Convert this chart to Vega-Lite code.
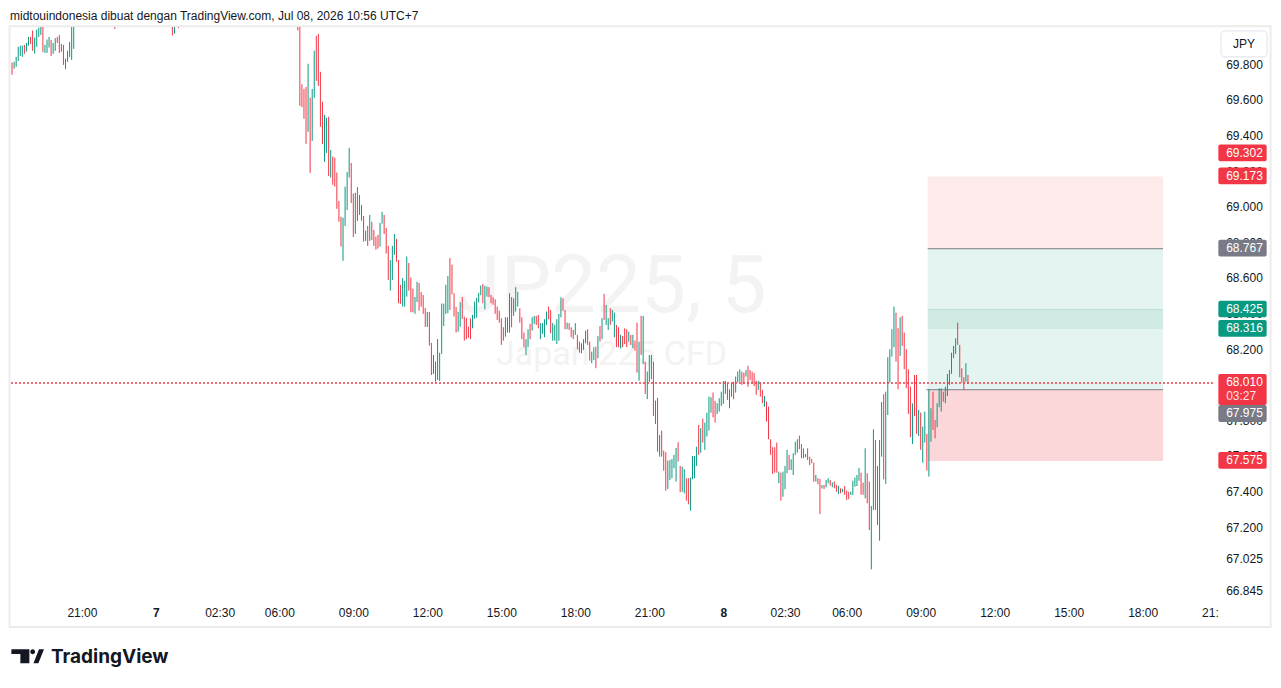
{
"$schema":"https://vega.github.io/schema/vega-lite/v6.json",
"width":1203,"height":573,
"autosize":{"type":"none"},
"padding":{"left":10,"top":27,"right":68,"bottom":88},
"background":"white",
"config":{"view":{"stroke":null},"font":"Liberation Sans",
 "axis":{"grid":false,"domain":false,"ticks":false,"tickSize":0,"labelFont":"Liberation Sans","labelFontSize":12,"labelColor":"#131722","labelOverlap":false,"labelFlush":false,"labelBound":false},
 "axisX":{"labelPadding":7},"axisY":{"labels":false}},
"data":{"values":[{}]},
"datasets":{
"bars":[
{"i":1,"o":69.813,"h":69.813,"l":69.744,"c":69.744},
{"i":2,"o":69.778,"h":69.818,"l":69.778,"c":69.818},
{"i":3,"o":69.789,"h":69.845,"l":69.789,"c":69.845},
{"i":4,"o":69.822,"h":69.901,"l":69.822,"c":69.901},
{"i":5,"o":69.85,"h":69.908,"l":69.85,"c":69.908},
{"i":6,"o":69.845,"h":69.908,"l":69.845,"c":69.908},
{"i":7,"o":69.912,"h":69.912,"l":69.862,"c":69.862},
{"i":8,"o":69.875,"h":69.923,"l":69.875,"c":69.923},
{"i":9,"o":69.908,"h":69.957,"l":69.908,"c":69.957},
{"i":10,"o":69.957,"h":69.957,"l":69.918,"c":69.918},
{"i":11,"o":69.993,"h":69.993,"l":69.879,"c":69.879},
{"i":12,"o":69.863,"h":69.953,"l":69.863,"c":69.953},
{"i":13,"o":69.901,"h":69.998,"l":69.901,"c":69.998},
{"i":14,"o":69.957,"h":70.009,"l":69.957,"c":70.009},
{"i":15,"o":69.968,"h":70.03,"l":69.968,"c":70.03},
{"i":16,"o":70.02,"h":70.02,"l":69.873,"c":69.873},
{"i":17,"o":69.867,"h":69.912,"l":69.867,"c":69.912},
{"i":18,"o":69.867,"h":69.942,"l":69.867,"c":69.942},
{"i":19,"o":69.897,"h":69.957,"l":69.897,"c":69.957},
{"i":20,"o":69.94,"h":69.94,"l":69.85,"c":69.85},
{"i":21,"o":69.862,"h":69.923,"l":69.862,"c":69.923},
{"i":22,"o":69.879,"h":69.95,"l":69.879,"c":69.95},
{"i":23,"o":69.957,"h":69.957,"l":69.923,"c":69.923},
{"i":24,"o":69.968,"h":69.968,"l":69.867,"c":69.867},
{"i":25,"o":69.918,"h":69.918,"l":69.873,"c":69.873},
{"i":26,"o":69.912,"h":69.912,"l":69.8,"c":69.8},
{"i":27,"o":69.777,"h":69.835,"l":69.777,"c":69.835},
{"i":28,"o":69.817,"h":69.879,"l":69.817,"c":69.879},
{"i":29,"o":69.845,"h":69.929,"l":69.845,"c":69.929},
{"i":30,"o":69.828,"h":70.06,"l":69.828,"c":70.06},
{"i":31,"o":69.89,"h":70.08,"l":69.89,"c":70.08},
{"i":51,"o":70.06,"h":70.06,"l":70.002,"c":70.002},
{"i":79,"o":70.08,"h":70.08,"l":69.965,"c":69.965},
{"i":80,"o":69.976,"h":70.07,"l":69.976,"c":70.07},
{"i":82,"o":70.05,"h":70.05,"l":70.008,"c":70.008},
{"i":140,"o":70.03,"h":70.03,"l":69.993,"c":69.993},
{"i":141,"o":70.04,"h":70.04,"l":69.57,"c":69.57},
{"i":142,"o":69.691,"h":69.691,"l":69.562,"c":69.562},
{"i":143,"o":69.665,"h":69.665,"l":69.497,"c":69.497},
{"i":144,"o":69.676,"h":69.676,"l":69.356,"c":69.356},
{"i":145,"o":69.424,"h":69.806,"l":69.424,"c":69.806},
{"i":146,"o":69.615,"h":69.615,"l":69.193,"c":69.193},
{"i":147,"o":69.373,"h":69.665,"l":69.373,"c":69.665},
{"i":148,"o":69.615,"h":69.879,"l":69.615,"c":69.879},
{"i":149,"o":69.963,"h":69.963,"l":69.71,"c":69.71},
{"i":150,"o":69.974,"h":69.974,"l":69.682,"c":69.682},
{"i":151,"o":69.761,"h":69.761,"l":69.452,"c":69.452},
{"i":152,"o":69.592,"h":69.592,"l":69.356,"c":69.356},
{"i":153,"o":69.255,"h":69.519,"l":69.255,"c":69.519},
{"i":154,"o":69.305,"h":69.502,"l":69.305,"c":69.502},
{"i":155,"o":69.508,"h":69.508,"l":69.176,"c":69.176},
{"i":156,"o":69.167,"h":69.322,"l":69.167,"c":69.322},
{"i":157,"o":69.285,"h":69.285,"l":69.126,"c":69.126},
{"i":158,"o":69.279,"h":69.279,"l":69.116,"c":69.116},
{"i":159,"o":69.195,"h":69.195,"l":68.991,"c":68.991},
{"i":160,"o":69.035,"h":69.035,"l":68.919,"c":68.919},
{"i":161,"o":68.947,"h":68.947,"l":68.779,"c":68.779},
{"i":162,"o":68.699,"h":68.942,"l":68.699,"c":68.942},
{"i":163,"o":68.895,"h":69.116,"l":68.895,"c":69.116},
{"i":164,"o":68.985,"h":69.199,"l":68.985,"c":69.199},
{"i":165,"o":69.167,"h":69.333,"l":69.167,"c":69.333},
{"i":166,"o":69.249,"h":69.249,"l":69.024,"c":69.024},
{"i":167,"o":69.077,"h":69.077,"l":68.833,"c":68.833},
{"i":168,"o":68.85,"h":69.081,"l":68.85,"c":69.081},
{"i":169,"o":69.114,"h":69.114,"l":68.923,"c":68.923},
{"i":170,"o":69.069,"h":69.069,"l":68.957,"c":68.957},
{"i":171,"o":69.013,"h":69.013,"l":68.925,"c":68.925},
{"i":172,"o":68.951,"h":68.951,"l":68.807,"c":68.807},
{"i":173,"o":68.811,"h":68.869,"l":68.811,"c":68.869},
{"i":174,"o":68.895,"h":68.895,"l":68.783,"c":68.783},
{"i":175,"o":68.811,"h":68.957,"l":68.811,"c":68.957},
{"i":176,"o":68.919,"h":68.919,"l":68.816,"c":68.816},
{"i":177,"o":68.873,"h":68.873,"l":68.783,"c":68.783},
{"i":178,"o":68.835,"h":68.835,"l":68.762,"c":68.762},
{"i":179,"o":68.845,"h":68.845,"l":68.768,"c":68.768},
{"i":180,"o":68.779,"h":68.912,"l":68.779,"c":68.912},
{"i":181,"o":68.908,"h":68.974,"l":68.908,"c":68.974},
{"i":182,"o":68.957,"h":68.957,"l":68.85,"c":68.85},
{"i":183,"o":68.884,"h":68.884,"l":68.74,"c":68.74},
{"i":184,"o":68.783,"h":68.783,"l":68.592,"c":68.592},
{"i":185,"o":68.532,"h":68.704,"l":68.532,"c":68.704},
{"i":186,"o":68.592,"h":68.783,"l":68.592,"c":68.783},
{"i":187,"o":68.732,"h":68.85,"l":68.732,"c":68.85},
{"i":188,"o":68.822,"h":68.822,"l":68.695,"c":68.695},
{"i":189,"o":68.704,"h":68.704,"l":68.461,"c":68.461},
{"i":190,"o":68.564,"h":68.564,"l":68.457,"c":68.457},
{"i":191,"o":68.442,"h":68.603,"l":68.442,"c":68.603},
{"i":192,"o":68.442,"h":68.586,"l":68.442,"c":68.586},
{"i":193,"o":68.498,"h":68.723,"l":68.498,"c":68.723},
{"i":194,"o":68.687,"h":68.687,"l":68.532,"c":68.532},
{"i":195,"o":68.605,"h":68.605,"l":68.41,"c":68.41},
{"i":196,"o":68.543,"h":68.543,"l":68.41,"c":68.41},
{"i":197,"o":68.402,"h":68.496,"l":68.402,"c":68.496},
{"i":198,"o":68.468,"h":68.581,"l":68.468,"c":68.581},
{"i":199,"o":68.575,"h":68.575,"l":68.419,"c":68.419},
{"i":200,"o":68.524,"h":68.524,"l":68.442,"c":68.442},
{"i":201,"o":68.507,"h":68.507,"l":68.401,"c":68.401},
{"i":202,"o":68.434,"h":68.434,"l":68.328,"c":68.328},
{"i":203,"o":68.328,"h":68.412,"l":68.328,"c":68.412},
{"i":204,"o":68.412,"h":68.412,"l":68.223,"c":68.223},
{"i":205,"o":68.238,"h":68.238,"l":68.058,"c":68.058},
{"i":206,"o":68.063,"h":68.17,"l":68.063,"c":68.17},
{"i":207,"o":68.02,"h":68.133,"l":68.02,"c":68.133},
{"i":208,"o":68.03,"h":68.26,"l":68.03,"c":68.26},
{"i":209,"o":68.024,"h":68.183,"l":68.024,"c":68.183},
{"i":210,"o":68.176,"h":68.459,"l":68.176,"c":68.459},
{"i":211,"o":68.333,"h":68.459,"l":68.333,"c":68.459},
{"i":212,"o":68.401,"h":68.564,"l":68.401,"c":68.564},
{"i":213,"o":68.405,"h":68.614,"l":68.405,"c":68.614},
{"i":214,"o":68.715,"h":68.715,"l":68.423,"c":68.423},
{"i":215,"o":68.678,"h":68.678,"l":68.511,"c":68.511},
{"i":216,"o":68.517,"h":68.517,"l":68.386,"c":68.386},
{"i":217,"o":68.44,"h":68.44,"l":68.296,"c":68.296},
{"i":218,"o":68.301,"h":68.412,"l":68.301,"c":68.412},
{"i":219,"o":68.329,"h":68.466,"l":68.329,"c":68.466},
{"i":220,"o":68.496,"h":68.496,"l":68.373,"c":68.373},
{"i":221,"o":68.386,"h":68.386,"l":68.251,"c":68.251},
{"i":222,"o":68.378,"h":68.378,"l":68.259,"c":68.259},
{"i":223,"o":68.329,"h":68.329,"l":68.267,"c":68.267},
{"i":224,"o":68.376,"h":68.376,"l":68.259,"c":68.259},
{"i":225,"o":68.32,"h":68.395,"l":68.32,"c":68.395},
{"i":226,"o":68.373,"h":68.47,"l":68.373,"c":68.47},
{"i":227,"o":68.38,"h":68.492,"l":68.38,"c":68.492},
{"i":228,"o":68.466,"h":68.519,"l":68.466,"c":68.519},
{"i":229,"o":68.506,"h":68.56,"l":68.506,"c":68.56},
{"i":230,"o":68.569,"h":68.569,"l":68.461,"c":68.461},
{"i":231,"o":68.427,"h":68.56,"l":68.427,"c":68.56},
{"i":232,"o":68.498,"h":68.554,"l":68.498,"c":68.554},
{"i":233,"o":68.551,"h":68.551,"l":68.495,"c":68.495},
{"i":234,"o":68.508,"h":68.508,"l":68.461,"c":68.461},
{"i":235,"o":68.495,"h":68.495,"l":68.452,"c":68.452},
{"i":236,"o":68.483,"h":68.483,"l":68.401,"c":68.401},
{"i":237,"o":68.442,"h":68.442,"l":68.367,"c":68.367},
{"i":238,"o":68.419,"h":68.419,"l":68.352,"c":68.352},
{"i":239,"o":68.377,"h":68.377,"l":68.227,"c":68.227},
{"i":240,"o":68.326,"h":68.326,"l":68.251,"c":68.251},
{"i":241,"o":68.273,"h":68.382,"l":68.273,"c":68.382},
{"i":242,"o":68.296,"h":68.382,"l":68.296,"c":68.382},
{"i":243,"o":68.296,"h":68.517,"l":68.296,"c":68.517},
{"i":244,"o":68.495,"h":68.495,"l":68.326,"c":68.326},
{"i":245,"o":68.39,"h":68.489,"l":68.39,"c":68.489},
{"i":246,"o":68.414,"h":68.551,"l":68.414,"c":68.551},
{"i":247,"o":68.442,"h":68.526,"l":68.442,"c":68.526},
{"i":248,"o":68.433,"h":68.433,"l":68.352,"c":68.352},
{"i":249,"o":68.382,"h":68.382,"l":68.259,"c":68.259},
{"i":250,"o":68.296,"h":68.296,"l":68.214,"c":68.214},
{"i":251,"o":68.17,"h":68.259,"l":68.17,"c":68.259},
{"i":252,"o":68.214,"h":68.315,"l":68.214,"c":68.315},
{"i":253,"o":68.345,"h":68.345,"l":68.259,"c":68.259},
{"i":254,"o":68.307,"h":68.382,"l":68.307,"c":68.382},
{"i":255,"o":68.345,"h":68.39,"l":68.345,"c":68.39},
{"i":256,"o":68.39,"h":68.39,"l":68.339,"c":68.339},
{"i":257,"o":68.395,"h":68.395,"l":68.32,"c":68.32},
{"i":258,"o":68.259,"h":68.349,"l":68.259,"c":68.349},
{"i":259,"o":68.289,"h":68.349,"l":68.289,"c":68.349},
{"i":260,"o":68.27,"h":68.371,"l":68.27,"c":68.371},
{"i":261,"o":68.339,"h":68.414,"l":68.339,"c":68.414},
{"i":262,"o":68.442,"h":68.442,"l":68.371,"c":68.371},
{"i":263,"o":68.423,"h":68.423,"l":68.292,"c":68.292},
{"i":264,"o":68.251,"h":68.349,"l":68.251,"c":68.349},
{"i":265,"o":68.251,"h":68.339,"l":68.251,"c":68.339},
{"i":266,"o":68.232,"h":68.371,"l":68.232,"c":68.371},
{"i":267,"o":68.251,"h":68.401,"l":68.251,"c":68.401},
{"i":268,"o":68.382,"h":68.495,"l":68.382,"c":68.495},
{"i":269,"o":68.489,"h":68.489,"l":68.419,"c":68.419},
{"i":270,"o":68.423,"h":68.423,"l":68.315,"c":68.315},
{"i":271,"o":68.315,"h":68.352,"l":68.315,"c":68.352},
{"i":272,"o":68.349,"h":68.349,"l":68.311,"c":68.311},
{"i":273,"o":68.326,"h":68.326,"l":68.27,"c":68.27},
{"i":274,"o":68.311,"h":68.311,"l":68.259,"c":68.259},
{"i":275,"o":68.283,"h":68.349,"l":68.283,"c":68.349},
{"i":276,"o":68.283,"h":68.283,"l":68.202,"c":68.202},
{"i":277,"o":68.245,"h":68.245,"l":68.183,"c":68.183},
{"i":278,"o":68.18,"h":68.236,"l":68.18,"c":68.236},
{"i":279,"o":68.199,"h":68.259,"l":68.199,"c":68.259},
{"i":280,"o":68.236,"h":68.307,"l":68.236,"c":68.307},
{"i":281,"o":68.315,"h":68.315,"l":68.227,"c":68.227},
{"i":282,"o":68.245,"h":68.245,"l":68.138,"c":68.138},
{"i":283,"o":68.124,"h":68.189,"l":68.124,"c":68.189},
{"i":284,"o":68.142,"h":68.214,"l":68.142,"c":68.214},
{"i":285,"o":68.217,"h":68.217,"l":68.096,"c":68.096},
{"i":286,"o":68.152,"h":68.277,"l":68.152,"c":68.277},
{"i":287,"o":68.333,"h":68.333,"l":68.245,"c":68.245},
{"i":288,"o":68.259,"h":68.377,"l":68.259,"c":68.377},
{"i":289,"o":68.513,"h":68.513,"l":68.367,"c":68.367},
{"i":290,"o":68.339,"h":68.451,"l":68.339,"c":68.451},
{"i":291,"o":68.311,"h":68.377,"l":68.311,"c":68.377},
{"i":292,"o":68.433,"h":68.433,"l":68.339,"c":68.339},
{"i":293,"o":68.358,"h":68.423,"l":68.358,"c":68.423},
{"i":294,"o":68.27,"h":68.408,"l":68.27,"c":68.408},
{"i":295,"o":68.339,"h":68.339,"l":68.214,"c":68.214},
{"i":296,"o":68.326,"h":68.326,"l":68.214,"c":68.214},
{"i":297,"o":68.208,"h":68.283,"l":68.208,"c":68.283},
{"i":298,"o":68.277,"h":68.277,"l":68.214,"c":68.214},
{"i":299,"o":68.32,"h":68.32,"l":68.232,"c":68.232},
{"i":300,"o":68.315,"h":68.315,"l":68.214,"c":68.214},
{"i":301,"o":68.245,"h":68.301,"l":68.245,"c":68.301},
{"i":302,"o":68.283,"h":68.283,"l":68.227,"c":68.227},
{"i":303,"o":68.208,"h":68.283,"l":68.208,"c":68.283},
{"i":304,"o":68.251,"h":68.251,"l":68.195,"c":68.195},
{"i":305,"o":68.352,"h":68.352,"l":68.071,"c":68.071},
{"i":306,"o":68.026,"h":68.245,"l":68.026,"c":68.245},
{"i":307,"o":68.39,"h":68.39,"l":68.17,"c":68.17},
{"i":308,"o":68.12,"h":68.39,"l":68.12,"c":68.39},
{"i":309,"o":68.133,"h":68.133,"l":67.951,"c":67.951},
{"i":310,"o":67.922,"h":68.077,"l":67.922,"c":68.077},
{"i":311,"o":68.019,"h":68.17,"l":68.019,"c":68.17},
{"i":312,"o":68.034,"h":68.17,"l":68.034,"c":68.17},
{"i":313,"o":68.133,"h":68.133,"l":67.828,"c":67.828},
{"i":314,"o":67.914,"h":67.914,"l":67.783,"c":67.783},
{"i":315,"o":67.929,"h":67.929,"l":67.627,"c":67.627},
{"i":316,"o":67.599,"h":67.721,"l":67.599,"c":67.721},
{"i":317,"o":67.745,"h":67.745,"l":67.599,"c":67.599},
{"i":318,"o":67.633,"h":67.633,"l":67.52,"c":67.52},
{"i":319,"o":67.624,"h":67.624,"l":67.408,"c":67.408},
{"i":320,"o":67.418,"h":67.577,"l":67.418,"c":67.577},
{"i":321,"o":67.468,"h":67.58,"l":67.468,"c":67.58},
{"i":322,"o":67.478,"h":67.586,"l":67.478,"c":67.586},
{"i":323,"o":67.534,"h":67.609,"l":67.534,"c":67.609},
{"i":324,"o":67.459,"h":67.648,"l":67.459,"c":67.648},
{"i":325,"o":67.68,"h":67.68,"l":67.571,"c":67.571},
{"i":326,"o":67.547,"h":67.547,"l":67.399,"c":67.399},
{"i":327,"o":67.402,"h":67.543,"l":67.402,"c":67.543},
{"i":328,"o":67.393,"h":67.528,"l":67.393,"c":67.528},
{"i":329,"o":67.478,"h":67.478,"l":67.352,"c":67.352},
{"i":330,"o":67.478,"h":67.478,"l":67.331,"c":67.331},
{"i":331,"o":67.296,"h":67.481,"l":67.296,"c":67.481},
{"i":332,"o":67.472,"h":67.603,"l":67.472,"c":67.603},
{"i":333,"o":67.478,"h":67.603,"l":67.478,"c":67.603},
{"i":334,"o":67.547,"h":67.655,"l":67.547,"c":67.655},
{"i":335,"o":67.777,"h":67.777,"l":67.609,"c":67.609},
{"i":336,"o":67.621,"h":67.759,"l":67.621,"c":67.759},
{"i":337,"o":67.813,"h":67.813,"l":67.678,"c":67.678},
{"i":338,"o":67.637,"h":67.79,"l":67.637,"c":67.79},
{"i":339,"o":67.712,"h":67.846,"l":67.712,"c":67.846},
{"i":340,"o":67.745,"h":67.936,"l":67.745,"c":67.936},
{"i":341,"o":67.846,"h":67.933,"l":67.846,"c":67.933},
{"i":342,"o":67.959,"h":67.959,"l":67.82,"c":67.82},
{"i":343,"o":67.912,"h":67.912,"l":67.79,"c":67.79},
{"i":344,"o":67.839,"h":67.899,"l":67.839,"c":67.899},
{"i":345,"o":67.852,"h":67.927,"l":67.852,"c":67.927},
{"i":346,"o":67.884,"h":67.964,"l":67.884,"c":67.964},
{"i":347,"o":67.895,"h":68.024,"l":67.895,"c":68.024},
{"i":348,"o":67.951,"h":68.024,"l":67.951,"c":68.024},
{"i":349,"o":68.011,"h":68.011,"l":67.918,"c":67.918},
{"i":350,"o":67.871,"h":67.978,"l":67.871,"c":67.978},
{"i":351,"o":67.936,"h":68.011,"l":67.936,"c":68.011},
{"i":352,"o":68.02,"h":68.02,"l":67.922,"c":67.922},
{"i":353,"o":67.959,"h":68.049,"l":67.959,"c":68.049},
{"i":354,"o":68.015,"h":68.077,"l":68.015,"c":68.077},
{"i":355,"o":68.02,"h":68.09,"l":68.02,"c":68.09},
{"i":356,"o":68.077,"h":68.077,"l":68.002,"c":68.002},
{"i":357,"o":68.071,"h":68.071,"l":68.008,"c":68.008},
{"i":358,"o":68.049,"h":68.086,"l":68.049,"c":68.086},
{"i":359,"o":68.109,"h":68.109,"l":67.992,"c":67.992},
{"i":360,"o":68.086,"h":68.086,"l":68.03,"c":68.03},
{"i":361,"o":68.077,"h":68.077,"l":68.011,"c":68.011},
{"i":362,"o":68.068,"h":68.068,"l":67.996,"c":67.996},
{"i":363,"o":68.026,"h":68.026,"l":67.946,"c":67.946},
{"i":364,"o":67.974,"h":68.024,"l":67.974,"c":68.024},
{"i":365,"o":68.015,"h":68.015,"l":67.936,"c":67.936},
{"i":366,"o":67.974,"h":67.974,"l":67.899,"c":67.899},
{"i":367,"o":67.88,"h":67.94,"l":67.88,"c":67.94},
{"i":368,"o":67.908,"h":67.908,"l":67.796,"c":67.796},
{"i":369,"o":67.88,"h":67.88,"l":67.697,"c":67.697},
{"i":370,"o":67.697,"h":67.697,"l":67.609,"c":67.609},
{"i":371,"o":67.652,"h":67.652,"l":67.502,"c":67.502},
{"i":372,"o":67.652,"h":67.652,"l":67.509,"c":67.509},
{"i":373,"o":67.678,"h":67.678,"l":67.509,"c":67.509},
{"i":374,"o":67.45,"h":67.515,"l":67.45,"c":67.515},
{"i":375,"o":67.509,"h":67.509,"l":67.352,"c":67.352},
{"i":376,"o":67.374,"h":67.515,"l":67.374,"c":67.515},
{"i":377,"o":67.416,"h":67.547,"l":67.416,"c":67.547},
{"i":378,"o":67.506,"h":67.637,"l":67.506,"c":67.637},
{"i":379,"o":67.609,"h":67.609,"l":67.524,"c":67.524},
{"i":380,"o":67.524,"h":67.584,"l":67.524,"c":67.584},
{"i":381,"o":67.496,"h":67.618,"l":67.496,"c":67.618},
{"i":382,"o":67.609,"h":67.683,"l":67.609,"c":67.683},
{"i":383,"o":67.621,"h":67.697,"l":67.621,"c":67.697},
{"i":384,"o":67.717,"h":67.717,"l":67.641,"c":67.641},
{"i":385,"o":67.67,"h":67.67,"l":67.59,"c":67.59},
{"i":386,"o":67.646,"h":67.646,"l":67.59,"c":67.59},
{"i":387,"o":67.596,"h":67.614,"l":67.596,"c":67.614},
{"i":388,"o":67.646,"h":67.646,"l":67.58,"c":67.58},
{"i":389,"o":67.599,"h":67.599,"l":67.552,"c":67.552},
{"i":390,"o":67.586,"h":67.586,"l":67.562,"c":67.562},
{"i":391,"o":67.565,"h":67.565,"l":67.459,"c":67.459},
{"i":392,"o":67.459,"h":67.496,"l":67.459,"c":67.496},
{"i":393,"o":67.478,"h":67.478,"l":67.444,"c":67.444},
{"i":394,"o":67.474,"h":67.474,"l":67.277,"c":67.277},
{"i":395,"o":67.421,"h":67.44,"l":67.421,"c":67.44},
{"i":396,"o":67.44,"h":67.44,"l":67.417,"c":67.417},
{"i":397,"o":67.427,"h":67.468,"l":67.427,"c":67.468},
{"i":398,"o":67.45,"h":67.478,"l":67.45,"c":67.478},
{"i":399,"o":67.468,"h":67.468,"l":67.436,"c":67.436},
{"i":400,"o":67.427,"h":67.455,"l":67.427,"c":67.455},
{"i":401,"o":67.459,"h":67.459,"l":67.422,"c":67.422},
{"i":402,"o":67.44,"h":67.44,"l":67.402,"c":67.402},
{"i":403,"o":67.389,"h":67.434,"l":67.389,"c":67.434},
{"i":404,"o":67.421,"h":67.421,"l":67.393,"c":67.393},
{"i":405,"o":67.4,"h":67.418,"l":67.4,"c":67.418},
{"i":406,"o":67.434,"h":67.434,"l":67.385,"c":67.385},
{"i":407,"o":67.408,"h":67.408,"l":67.356,"c":67.356},
{"i":408,"o":67.402,"h":67.402,"l":67.36,"c":67.36},
{"i":409,"o":67.384,"h":67.402,"l":67.384,"c":67.402},
{"i":410,"o":67.384,"h":67.464,"l":67.384,"c":67.464},
{"i":411,"o":67.43,"h":67.481,"l":67.43,"c":67.481},
{"i":412,"o":67.434,"h":67.496,"l":67.434,"c":67.496},
{"i":413,"o":67.464,"h":67.535,"l":67.464,"c":67.535},
{"i":414,"o":67.509,"h":67.509,"l":67.385,"c":67.385},
{"i":415,"o":67.453,"h":67.453,"l":67.385,"c":67.385},
{"i":416,"o":67.365,"h":67.646,"l":67.365,"c":67.646},
{"i":417,"o":67.506,"h":67.506,"l":67.337,"c":67.337},
{"i":418,"o":67.459,"h":67.459,"l":67.187,"c":67.187},
{"i":419,"o":66.966,"h":67.322,"l":66.966,"c":67.322},
{"i":420,"o":67.3,"h":67.753,"l":67.3,"c":67.753},
{"i":421,"o":67.693,"h":67.693,"l":67.3,"c":67.3},
{"i":422,"o":67.547,"h":67.547,"l":67.215,"c":67.215},
{"i":423,"o":67.127,"h":67.693,"l":67.127,"c":67.693},
{"i":424,"o":67.599,"h":67.906,"l":67.599,"c":67.906},
{"i":425,"o":67.95,"h":67.95,"l":67.472,"c":67.472},
{"i":426,"o":67.446,"h":67.964,"l":67.446,"c":67.964},
{"i":427,"o":67.833,"h":68.158,"l":67.833,"c":68.158},
{"i":428,"o":68.015,"h":68.202,"l":68.015,"c":68.202},
{"i":429,"o":68.161,"h":68.315,"l":68.161,"c":68.315},
{"i":430,"o":68.214,"h":68.442,"l":68.214,"c":68.442},
{"i":431,"o":68.408,"h":68.408,"l":68.133,"c":68.133},
{"i":432,"o":68.321,"h":68.321,"l":67.978,"c":67.978},
{"i":433,"o":68.165,"h":68.382,"l":68.165,"c":68.382},
{"i":434,"o":68.39,"h":68.39,"l":68.221,"c":68.221},
{"i":435,"o":68.296,"h":68.296,"l":68.09,"c":68.09},
{"i":436,"o":68.203,"h":68.203,"l":67.984,"c":67.984},
{"i":437,"o":68.09,"h":68.09,"l":67.839,"c":67.839},
{"i":438,"o":67.992,"h":67.992,"l":67.708,"c":67.708},
{"i":439,"o":67.67,"h":67.899,"l":67.67,"c":67.899},
{"i":440,"o":68.058,"h":68.058,"l":67.828,"c":67.828},
{"i":441,"o":68.058,"h":68.058,"l":67.727,"c":67.727},
{"i":442,"o":67.715,"h":67.861,"l":67.715,"c":67.861},
{"i":443,"o":67.846,"h":67.846,"l":67.637,"c":67.637},
{"i":444,"o":67.565,"h":67.768,"l":67.565,"c":67.768},
{"i":445,"o":67.678,"h":67.852,"l":67.678,"c":67.852},
{"i":446,"o":67.727,"h":67.727,"l":67.52,"c":67.52},
{"i":447,"o":67.487,"h":67.978,"l":67.487,"c":67.978},
{"i":448,"o":67.683,"h":67.871,"l":67.683,"c":67.871},
{"i":449,"o":67.964,"h":67.964,"l":67.749,"c":67.749},
{"i":450,"o":67.805,"h":67.805,"l":67.702,"c":67.702},
{"i":451,"o":67.764,"h":67.899,"l":67.764,"c":67.899},
{"i":452,"o":67.877,"h":67.983,"l":67.877,"c":67.983},
{"i":453,"o":67.852,"h":67.983,"l":67.852,"c":67.983},
{"i":454,"o":67.964,"h":67.964,"l":67.908,"c":67.908},
{"i":455,"o":67.899,"h":67.992,"l":67.899,"c":67.992},
{"i":456,"o":67.94,"h":68.064,"l":67.94,"c":68.064},
{"i":457,"o":68.002,"h":68.086,"l":68.002,"c":68.086},
{"i":458,"o":68.064,"h":68.183,"l":68.064,"c":68.183},
{"i":459,"o":68.152,"h":68.221,"l":68.152,"c":68.221},
{"i":460,"o":68.176,"h":68.264,"l":68.176,"c":68.264},
{"i":461,"o":68.352,"h":68.352,"l":68.227,"c":68.227},
{"i":462,"o":68.227,"h":68.227,"l":68.045,"c":68.045},
{"i":463,"o":68.096,"h":68.096,"l":68.015,"c":68.015},
{"i":464,"o":68.045,"h":68.045,"l":67.974,"c":67.974},
{"i":465,"o":68.02,"h":68.124,"l":68.02,"c":68.124},
{"i":466,"o":68.04,"h":68.058,"l":68.01,"c":68.01}
],
"zones":[
{"from":446.4,"to":560.9,"top":69.173,"bot":68.767,"zone":"short stop"},
{"from":446.4,"to":560.9,"top":68.767,"bot":68.425,"zone":"short target"},
{"from":446.4,"to":560.9,"top":68.425,"bot":68.316,"zone":"overlap"},
{"from":446.4,"to":560.9,"top":68.316,"bot":67.975,"zone":"long target"},
{"from":446.4,"to":560.9,"top":67.975,"bot":67.575,"zone":"long stop"}
],
"lines":[
{"from":446.4,"to":560.9,"p":68.767,"kind":"entry"},
{"from":446.4,"to":560.9,"p":68.425,"kind":"target"},
{"from":445.8,"to":560.9,"p":67.975,"kind":"entry"}
],
"ylabels":[{"p":69.8},{"p":69.6},{"p":69.4},{"p":69.2},{"p":69.0},{"p":68.8},{"p":68.6},{"p":68.4},{"p":68.2},{"p":68.0},{"p":67.8},{"p":67.6},{"p":67.4},{"p":67.2},{"p":67.025},{"p":66.845}],
"last":[{"p":68.01}],
"tags":[
{"price":69.302,"kind":"high"},
{"price":69.173,"kind":"stop"},
{"price":68.767,"kind":"entry"},
{"price":68.425,"kind":"target"},
{"price":68.316,"kind":"target"},
{"price":67.575,"kind":"stop"}
]
},
"layer":[
{"mark":{"type":"rect","fillOpacity":0,"stroke":"#ececec","strokeWidth":2,"clip":false},
 "encoding":{"x":{"datum":-0.24,"type":"quantitative","axis":{"title":null}},"x2":{"datum":613.2},"y":{"datum":70.0163,"type":"quantitative","axis":{"title":null,"orient":"right"}},"y2":{"datum":66.642}}},
{"data":{"name":"zones"},"mark":{"type":"rect"},
 "encoding":{"x":{"field":"from","type":"quantitative","axis":{"title":null}},"x2":{"field":"to"},"y":{"field":"top","type":"quantitative","axis":{"title":null,"orient":"right"}},"y2":{"field":"bot"},
 "fill":{"field":"zone","type":"nominal","legend":null,"scale":{"domain":["short stop","short target","overlap","long target","long stop"],"range":["#fdebec","#e4f4f1","#cfe9e3","#e4f4f1","#fbd7da"]}}}},
{"data":{"name":"lines"},"mark":{"type":"rule","strokeWidth":1},
 "encoding":{"x":{"field":"from","type":"quantitative","axis":{"title":null}},"x2":{"field":"to"},"y":{"field":"p","type":"quantitative","axis":{"title":null,"orient":"right"}},
 "stroke":{"field":"kind","type":"nominal","legend":null,"scale":{"domain":["entry","target"],"range":["#787b86","#b9ddd6"]}}}},
{"mark":{"type":"text","font":"Roboto","fontSize":80,"color":"#f3f3f3","align":"center","baseline":"middle"},
 "encoding":{"x":{"datum":292.6,"type":"quantitative","axis":{"title":null}},"y":{"datum":68.547,"type":"quantitative","axis":{"title":null,"orient":"right"}},"text":{"value":"JP225, 5"}}},
{"mark":{"type":"text","font":"Roboto","fontSize":34,"color":"#f3f3f3","align":"center","baseline":"middle"},
 "encoding":{"x":{"datum":292.6,"type":"quantitative","axis":{"title":null}},"y":{"datum":68.17,"type":"quantitative","axis":{"title":null,"orient":"right"}},"text":{"value":"Japan 225 CFD"}}},
{"data":{"name":"bars"},"mark":{"type":"rule","strokeWidth":1,"clip":true},
 "encoding":{
  "x":{"field":"i","type":"quantitative","scale":{"domain":[0,585.2],"nice":false,"zero":false},
   "axis":{"title":null,"values":[35,71,102,131,167,203,239,275,311,347,377,407,443,479,515,551,583.7],
    "labelExpr":"datum.value==35?'21:00':datum.value==71?'7':datum.value==102?'02:30':datum.value==131?'06:00':datum.value==167?'09:00':datum.value==203?'12:00':datum.value==239?'15:00':datum.value==275?'18:00':datum.value==311?'21:00':datum.value==347?'8':datum.value==377?'02:30':datum.value==407?'06:00':datum.value==443?'09:00':datum.value==479?'12:00':datum.value==515?'15:00':datum.value==551?'18:00':'21:'",
    "labelOverlap":false,
    "labelFontWeight":{"condition":{"test":"datum.value==71||datum.value==347","value":"bold"},"value":"normal"}}},
  "y":{"field":"l","type":"quantitative","scale":{"domain":[66.7938,70.0127],"nice":false,"zero":false},
   "axis":{"title":null,"orient":"right"}},
  "y2":{"field":"h"},
  "color":{"condition":{"test":"datum.c >= datum.o","value":"#089981"},"value":"#F23645"}}},
{"data":{"name":"last"},"mark":{"type":"rule","strokeDash":[2,2],"strokeWidth":1.5,"yOffset":-0.5,"opacity":1},
 "encoding":{"y":{"field":"p","type":"quantitative","axis":{"title":null,"orient":"right"}},"color":{"value":"#F23645"}}},
{"data":{"name":"ylabels"},"mark":{"type":"text","align":"left","baseline":"middle","fontSize":12,"font":"Liberation Sans","clip":false},
 "encoding":{"x":{"datum":591.6,"type":"quantitative","axis":{"title":null}},"y":{"field":"p","type":"quantitative","axis":{"title":null,"orient":"right"}},"text":{"field":"p","format":".3f"},"color":{"value":"#131722"}}},
{"data":{"name":"tags"},"mark":{"type":"rect","yOffset":-9,"y2Offset":7.7,"cornerRadius":2,"clip":false},
 "encoding":{"x":{"datum":587.8,"type":"quantitative","axis":{"title":null}},"x2":{"datum":611.3},"y":{"field":"price","type":"quantitative","axis":{"title":null,"orient":"right"}},"y2":{"field":"price"},
 "color":{"field":"kind","type":"nominal","legend":null,"scale":{"domain":["high","stop","entry","target"],"range":["#F23645","#F23645","#787B86","#089981"]}}}},
{"data":{"name":"tags"},"mark":{"type":"text","align":"left","baseline":"middle","dy":-0.7,"fontSize":12,"font":"Liberation Sans","color":"white","clip":false},
 "encoding":{"x":{"datum":591.6,"type":"quantitative","axis":{"title":null}},"y":{"field":"price","type":"quantitative","axis":{"title":null,"orient":"right"}},"text":{"field":"price","format":".3f"}}},
{"mark":{"type":"rect","yOffset":-9.5,"y2Offset":21.5,"cornerRadius":2,"fill":"#F23645","clip":false},
 "encoding":{"x":{"datum":587.8,"type":"quantitative","axis":{"title":null}},"x2":{"datum":611.3},"y":{"datum":68.01,"type":"quantitative","axis":{"title":null,"orient":"right"}},"y2":{"datum":68.01}}},
{"mark":{"type":"rect","yOffset":21.5,"y2Offset":38.5,"cornerRadius":2,"fill":"#787B86","clip":false},
 "encoding":{"x":{"datum":587.8,"type":"quantitative","axis":{"title":null}},"x2":{"datum":611.3},"y":{"datum":68.01,"type":"quantitative","axis":{"title":null,"orient":"right"}},"y2":{"datum":68.01}}},
{"mark":{"type":"text","align":"left","baseline":"middle","dy":-1.2,"fontSize":12,"font":"Liberation Sans","color":"white","clip":false},
 "encoding":{"x":{"datum":591.6,"type":"quantitative","axis":{"title":null}},"y":{"datum":68.01,"type":"quantitative","axis":{"title":null,"orient":"right"}},"text":{"value":"68.010"}}},
{"mark":{"type":"text","align":"left","baseline":"middle","dy":12.5,"fontSize":12,"font":"Liberation Sans","color":"#fde1e3","clip":false},
 "encoding":{"x":{"datum":591.6,"type":"quantitative","axis":{"title":null}},"y":{"datum":68.01,"type":"quantitative","axis":{"title":null,"orient":"right"}},"text":{"value":"03:27"}}},
{"mark":{"type":"text","align":"left","baseline":"middle","dy":29.5,"fontSize":12,"font":"Liberation Sans","color":"white","clip":false},
 "encoding":{"x":{"datum":591.6,"type":"quantitative","axis":{"title":null}},"y":{"datum":68.01,"type":"quantitative","axis":{"title":null,"orient":"right"}},"text":{"value":"67.975"}}},
{"mark":{"type":"rect","cornerRadius":4,"fill":"white","stroke":"#e0e3eb","strokeWidth":1,"clip":false},
 "encoding":{"x":{"datum":589.1,"type":"quantitative","axis":{"title":null}},"x2":{"datum":611.5},"y":{"datum":69.991,"type":"quantitative","axis":{"title":null,"orient":"right"}},"y2":{"datum":69.845}}},
{"mark":{"type":"text","align":"center","baseline":"middle","fontSize":12,"font":"Liberation Sans","color":"#131722","clip":false},
 "encoding":{"x":{"datum":600.3,"type":"quantitative","axis":{"title":null}},"y":{"datum":69.918,"type":"quantitative","axis":{"title":null,"orient":"right"}},"text":{"value":"JPY"}}},
{"mark":{"type":"text","align":"left","baseline":"alphabetic","fontSize":12,"font":"Liberation Sans","color":"#131722","clip":false},
 "encoding":{"x":{"datum":0,"type":"quantitative","axis":{"title":null}},"y":{"datum":70.0528,"type":"quantitative","axis":{"title":null,"orient":"right"}},"text":{"value":"midtouindonesia dibuat dengan TradingView.com, Jul 08, 2026 10:56 UTC+7"}}},
{"mark":{"type":"point","shape":"M-1,-0.41L0.104,-0.41L0.104,0.45L-0.448,0.45L-0.448,-0.123L-1,-0.123Z M0.16,-0.264A0.147,0.147,0,1,0,0.454,-0.264A0.147,0.147,0,1,0,0.16,-0.264Z M0.693,-0.41L1,-0.41L0.656,0.45L0.356,0.45Z","size":1063,"filled":true,"color":"#131722","opacity":1,"clip":false},
 "encoding":{"x":{"datum":8.6,"type":"quantitative","axis":{"title":null}},"y":{"datum":66.479,"type":"quantitative","axis":{"title":null,"orient":"right"}}}},
{"mark":{"type":"text","align":"left","baseline":"middle","fontSize":19,"fontWeight":"bold","font":"Inter","color":"#131722","clip":false},
 "encoding":{"x":{"datum":19.9,"type":"quantitative","axis":{"title":null}},"y":{"datum":66.474,"type":"quantitative","axis":{"title":null,"orient":"right"}},"text":{"value":"TradingView"}}}
]
}
